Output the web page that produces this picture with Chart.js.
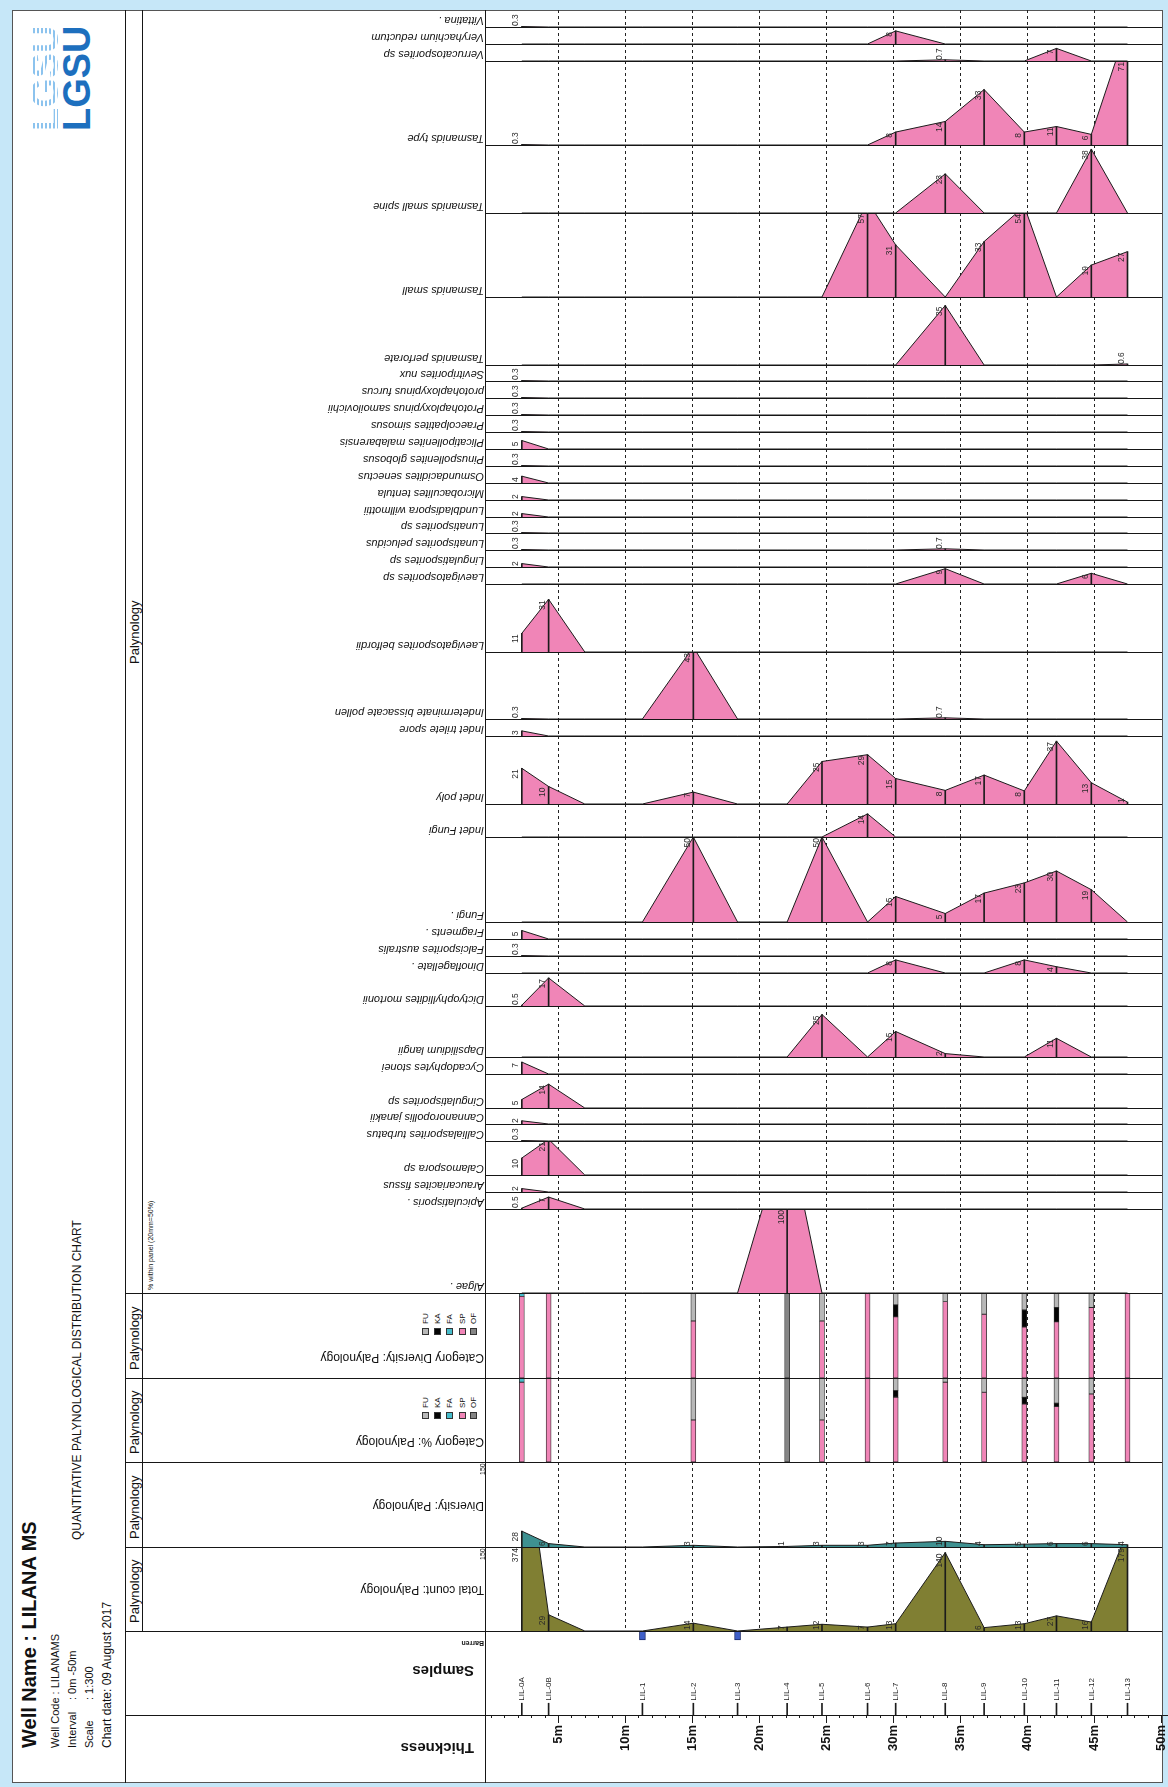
<!DOCTYPE html>
<html lang="en">
<head>
<meta charset="UTF-8">
<title>Well Name : LILANA MS</title>
<script src="https://cdn.jsdelivr.net/npm/chart.js"></script>
<style>
  body { margin: 0; background: #c6e7f8; }
  #sheet { position: relative; width: 1168px; height: 1787px; overflow: hidden;
           font-family: Arial, "Liberation Sans", sans-serif; color: #111; }
  #sheet > * { position: absolute; }
  .frame { background: #fff; border: 1px solid #555; box-sizing: border-box; }
  .ln { background: #161616; }
  .t { white-space: nowrap; line-height: 1; }
  .up { transform-origin: 0 0; transform: rotate(-90deg) translateY(-50%); }
  .flip { transform: rotate(180deg); text-align: left; }
  .sw { box-sizing: border-box; border: 1px solid #333; }
</style>
</head>
<body>
<div id="sheet"></div>
<script>
// ---------------- data ----------------
const sampleNames  = ['LIL-0A', 'LIL-0B', 'LIL-1', 'LIL-2', 'LIL-3', 'LIL-4', 'LIL-5', 'LIL-6',
                      'LIL-7', 'LIL-8', 'LIL-9', 'LIL-10', 'LIL-11', 'LIL-12', 'LIL-13'];
const sampleDepths = [2.3, 4.3, 11.3, 15.1, 18.4, 22.1, 24.7, 28.1, 30.2, 33.9, 36.8, 39.8, 42.2, 44.8, 47.5];
const barrenSamples = ['LIL-1', 'LIL-3'];
const zeroNode = 7.0;          // curves come back to zero here after LIL-0B
const gridDepths = [5, 10, 15, 20, 25, 30, 35, 40, 45];
const depthTicks = [5, 10, 15, 20, 25, 30, 35, 40, 45, 50];

const speciesNames = [
  'Vittatina .', 'Veryhachium reductum', 'Verrucatosporites sp', 'Tasmanids type',
  'Tasmanids small spine', 'Tasmanids small', 'Tasmanids perforate', 'Sevitriporites nux',
  'protohaploxypinus furcus', 'Protohaploxypinus samoilovichii', 'Praecolpatites simosus',
  'Plicatipollenites malabarensis', 'Pinuspollenites globosus', 'Osmundacidites senectus',
  'Microbaculites tentula', 'Lundbladispora willmottii', 'Lunatisporites sp',
  'Lunatisporites pelucidus', 'Lingulatisporites sp', 'Laevigatosporites sp',
  'Laevigatosporites belfordii', 'Indeterminate bissacate pollen', 'Indet trilete spore',
  'Indet poly', 'Indet Fungi', 'Fungi .', 'Fragments .', 'Falcisporites australis',
  'Dinoflagellate .', 'Dictyophyllidites mortonii', 'Dapsilidium langii', 'Cycadophytes stonei',
  'Cingulatisporites sp', 'Cannanoropollis janakii', 'Callialasporites turbatus',
  'Calamospora sp', 'Araucariacites fissus', 'Apiculatisporis .', 'Algae .'
];
// % per sample, columns follow sampleNames
const speciesValues = [
  [0.3, 0, 0, 0, 0, 0, 0, 0, 0, 0, 0, 0, 0, 0, 0],
  [0, 0, 0, 0, 0, 0, 0, 0, 7.7, 0, 0, 0, 0, 0, 0],
  [0, 0, 0, 0, 0, 0, 0, 0, 0, 0.7, 0, 0, 7.4, 0, 0],
  [0.3, 0, 0, 0, 0, 0, 0, 0, 7.7, 14, 33, 7.7, 11, 6.3, 71],
  [0, 0, 0, 0, 0, 0, 0, 0, 0, 23, 0, 0, 0, 37.5, 0],
  [0, 0, 0, 0, 0, 0, 0, 57, 31, 0, 33, 54, 0, 19, 27],
  [0, 0, 0, 0, 0, 0, 0, 0, 0, 35, 0, 0, 0, 0, 0.6],
  [0.3, 0, 0, 0, 0, 0, 0, 0, 0, 0, 0, 0, 0, 0, 0],
  [0.3, 0, 0, 0, 0, 0, 0, 0, 0, 0, 0, 0, 0, 0, 0],
  [0.3, 0, 0, 0, 0, 0, 0, 0, 0, 0, 0, 0, 0, 0, 0],
  [0.3, 0, 0, 0, 0, 0, 0, 0, 0, 0, 0, 0, 0, 0, 0],
  [5, 0, 0, 0, 0, 0, 0, 0, 0, 0, 0, 0, 0, 0, 0],
  [0.3, 0, 0, 0, 0, 0, 0, 0, 0, 0, 0, 0, 0, 0, 0],
  [4, 0, 0, 0, 0, 0, 0, 0, 0, 0, 0, 0, 0, 0, 0],
  [2, 0, 0, 0, 0, 0, 0, 0, 0, 0, 0, 0, 0, 0, 0],
  [2, 0, 0, 0, 0, 0, 0, 0, 0, 0, 0, 0, 0, 0, 0],
  [0.3, 0, 0, 0, 0, 0, 0, 0, 0, 0, 0, 0, 0, 0, 0],
  [0.3, 0, 0, 0, 0, 0, 0, 0, 0, 0.7, 0, 0, 0, 0, 0],
  [2, 0, 0, 0, 0, 0, 0, 0, 0, 0, 0, 0, 0, 0, 0],
  [0, 0, 0, 0, 0, 0, 0, 0, 0, 9, 0, 0, 0, 6.3, 0],
  [11, 31, 0, 0, 0, 0, 0, 0, 0, 0, 0, 0, 0, 0, 0],
  [0.3, 0, 0, 43, 0, 0, 0, 0, 0, 0.7, 0, 0, 0, 0, 0],
  [3, 0, 0, 0, 0, 0, 0, 0, 0, 0, 0, 0, 0, 0, 0],
  [21, 10.3, 0, 7, 0, 0, 25, 29, 15, 8, 17, 7.7, 37, 12.5, 1.1],
  [0, 0, 0, 0, 0, 0, 0, 14, 0, 0, 0, 0, 0, 0, 0],
  [0, 0, 0, 50, 0, 0, 50, 0, 15, 5, 17, 23, 30, 19, 0],
  [5, 0, 0, 0, 0, 0, 0, 0, 0, 0, 0, 0, 0, 0, 0],
  [0.3, 0, 0, 0, 0, 0, 0, 0, 0, 0, 0, 0, 0, 0, 0],
  [0, 0, 0, 0, 0, 0, 0, 0, 7.7, 0, 0, 7.7, 3.7, 0, 0],
  [0.5, 17, 0, 0, 0, 0, 0, 0, 0, 0, 0, 0, 0, 0, 0],
  [0, 0, 0, 0, 0, 0, 25, 0, 15, 2, 0, 0, 11, 0, 0],
  [7, 0, 0, 0, 0, 0, 0, 0, 0, 0, 0, 0, 0, 0, 0],
  [5, 14, 0, 0, 0, 0, 0, 0, 0, 0, 0, 0, 0, 0, 0],
  [2, 0, 0, 0, 0, 0, 0, 0, 0, 0, 0, 0, 0, 0, 0],
  [0.3, 0, 0, 0, 0, 0, 0, 0, 0, 0, 0, 0, 0, 0, 0],
  [10, 21, 0, 0, 0, 0, 0, 0, 0, 0, 0, 0, 0, 0, 0],
  [2, 0, 0, 0, 0, 0, 0, 0, 0, 0, 0, 0, 0, 0, 0],
  [0.5, 7, 0, 0, 0, 0, 0, 0, 0, 0, 0, 0, 0, 0, 0],
  [0, 0, 0, 0, 0, 100, 0, 0, 0, 0, 0, 0, 0, 0, 0]
];

const totalCount = [374, 29, 0, 14, 0, 7, 12, 7, 13, 140, 6, 13, 27, 16, 179];
const diversity  = [28, 6, 0, 3, 0, 1, 3, 3, 7, 10, 4, 5, 6, 6, 4];

const categoryCodes = ['FU', 'KA', 'FA', 'SP', 'OF'];
// Category Diversity (% of species in sample)
const divFU = [0, 0, 0, 33, 0, 0, 33, 0, 14, 10, 25, 20, 17, 17, 0];
const divKA = [0, 0, 0, 0, 0, 0, 0, 0, 14, 0, 0, 20, 17, 0, 0];
const divFA = [4, 0, 0, 0, 0, 0, 0, 0, 0, 0, 0, 0, 0, 0, 0];
const divSP = [96, 100, 0, 67, 0, 0, 67, 100, 72, 90, 75, 60, 66, 83, 100];
const divOF = [0, 0, 0, 0, 0, 100, 0, 0, 0, 0, 0, 0, 0, 0, 0];
// Category % (% of count in sample)
const pctFU = [0, 0, 0, 50, 0, 0, 50, 0, 15, 5, 17, 23, 30, 19, 0];
const pctKA = [0, 0, 0, 0, 0, 0, 0, 0, 8, 0, 0, 8, 4, 0, 0];
const pctFA = [5, 0, 0, 0, 0, 0, 0, 0, 0, 0, 0, 0, 0, 0, 0];
const pctSP = [95, 100, 0, 50, 0, 0, 50, 100, 77, 95, 83, 69, 66, 81, 100];
const pctOF = [0, 0, 0, 0, 0, 100, 0, 0, 0, 0, 0, 0, 0, 0, 0];

// ---------------- layout ----------------
const TOP = 10, BOTTOM = 1783, LEFT = 12, RIGHT = 1163;
const TITLE_R = 125, PANEL_R = 142, PLOT_L = 485, PLOT_R = 1162;
const X0 = 491, PX_PER_M = 13.4;          // pixel of 0 m, pixels per metre
const UNIT = 16.886;                       // one row unit = 10 %
const rowUnits = [1, 1, 1, 5, 4, 5, 4, 1, 1, 1, 1, 1, 1, 1, 1, 1, 1, 1, 1, 1,
                  4, 4, 1, 4, 2, 5, 1, 1, 1, 2, 3, 1, 2, 1, 1, 2, 1, 1, 5];
const xRange = right => ({ min: (PLOT_L - X0) / PX_PER_M, max: (right - X0) / PX_PER_M });
const U = n => Math.round(TOP + n * UNIT);

const PINK = '#f085b7', OLIVE = '#807f33', TEAL = '#3e9191';
const catColors = { FU: '#b8b8b8', KA: '#050505', FA: '#45bccb', SP: PINK, OF: '#858585' };
const INK = '#1c1c1c';

const sheet = document.getElementById('sheet');

function el(tag, cls, style, text) {
  const d = document.createElement(tag);
  if (cls) d.className = cls;
  Object.assign(d.style, style);
  if (text !== undefined) d.textContent = text;
  sheet.appendChild(d);
  return d;
}
const px = v => v + 'px';
function hLine(x1, x2, y) { el('div', 'ln', { left: px(x1), top: px(y), width: px(x2 - x1), height: '1px' }); }
function vLine(x, y1, y2) { el('div', 'ln', { left: px(x), top: px(y1), width: '1px', height: px(y2 - y1) }); }
// text reading bottom-to-top, starting at yStart, centred on x
function upText(str, x, yStart, font, color) {
  return el('div', 't up', { left: px(x), top: px(yStart), font, color: color || '#111' }, str);
}
// upside-down text, first letter at xRight, centred on yMid
function flipText(str, xRight, yMid, font, w) {
  w = w || 340;
  return el('div', 't flip', { left: px(xRight - w), top: px(yMid - 8), width: px(w), height: '16px',
                               lineHeight: '16px', font }, str);
}
function canvasAt(x, y, w, h) {
  const c = el('canvas', '', { left: px(x), top: px(y), width: px(w), height: px(h) });
  c.width = w; c.height = h;
  return c;
}

// ---------------- Chart.js setup ----------------
Chart.defaults.animation = false;
Chart.defaults.responsive = false;
Chart.defaults.events = [];
Chart.defaults.layout.autoPadding = false;
Chart.defaults.plugins.legend.display = false;
Chart.defaults.plugins.tooltip.enabled = false;
Chart.defaults.font.family = 'Arial, "Liberation Sans", sans-serif';

// small rotated value labels beside each sample stick
const valueLabels = {
  id: 'valueLabels',
  afterDatasetsDraw(chart, args, opts) {
    if (opts.dataset === undefined) return;
    const meta = chart.getDatasetMeta(opts.dataset);
    const data = chart.data.datasets[opts.dataset].data;
    const { ctx, chartArea } = chart;
    ctx.save();
    ctx.font = '8.5px Arial';
    ctx.fillStyle = '#2a2a2a';
    meta.data.forEach((bar, i) => {
      const v = data[i].y;
      const txt = v < 1 ? String(v) : String(Math.round(v));
      const w = ctx.measureText(txt).width;
      let top = Math.max(bar.y, chartArea.top) + 1;
      if (top + w > chartArea.bottom - 1) top = chartArea.bottom - 1 - w;
      ctx.save();
      ctx.translate(bar.x - 1.5, top);
      ctx.rotate(-Math.PI / 2);
      ctx.textAlign = 'right';
      ctx.textBaseline = 'bottom';
      ctx.fillText(txt, 0, 0);
      ctx.restore();
    });
    ctx.restore();
  }
};
// minor (1 m) ticks under the depth axis
const minorTicks = {
  id: 'minorTicks',
  afterDraw(chart, args, opts) {
    if (!opts.len) return;
    const { ctx, chartArea, scales: { x } } = chart;
    ctx.save();
    ctx.strokeStyle = INK;
    ctx.lineWidth = 1;
    for (let m = 0; m <= 50; m++) {
      const p = Math.round(x.getPixelForValue(m)) + 0.5;
      ctx.beginPath();
      ctx.moveTo(p, chartArea.bottom);
      ctx.lineTo(p, chartArea.bottom + opts.len);
      ctx.stroke();
    }
    ctx.restore();
  }
};
// sample names above the sample ticks
const sampleLabels = {
  id: 'sampleLabels',
  afterDatasetsDraw(chart, args, opts) {
    if (opts.at === undefined) return;
    const { ctx, scales: { x, y } } = chart;
    ctx.save();
    ctx.font = '8px Arial';
    ctx.fillStyle = '#222';
    sampleNames.forEach((n, i) => {
      ctx.save();
      ctx.translate(x.getPixelForValue(sampleDepths[i]), y.getPixelForValue(opts.at));
      ctx.rotate(-Math.PI / 2);
      ctx.textAlign = 'left';
      ctx.textBaseline = 'middle';
      ctx.fillText(n, 0, 0);
      ctx.restore();
    });
    ctx.restore();
  }
};
Chart.register(valueLabels, minorTicks, sampleLabels);

function depthScale() {
  return {
    type: 'linear', ...xRange(PLOT_R), offset: false,
    afterBuildTicks: s => { s.ticks = gridDepths.map(v => ({ value: v })); },
    ticks: { display: false },
    grid: { offset: false, drawTicks: false, color: '#222', lineWidth: 1 },
    border: { display: false, dash: [3, 3] }
  };
}
function curve(values) {
  const pts = sampleDepths.map((d, i) => ({ x: d, y: values[i] }));
  pts.splice(2, 0, { x: zeroNode, y: 0 });
  return pts;
}
const points = values => sampleDepths.map((d, i) => ({ x: d, y: values[i] })).filter(p => p.y > 0);

function areaTrack(y, h, values, yMax, color) {
  return new Chart(canvasAt(PLOT_L, y, PLOT_R - PLOT_L, h), {
    type: 'line',
    data: {
      datasets: [
        { data: curve(values), fill: 'origin', backgroundColor: color, borderColor: INK,
          borderWidth: 1, pointRadius: 0, tension: 0, order: 2 },
        { type: 'bar', data: points(values), backgroundColor: INK, barThickness: 1,
          grouped: false, order: 1 }
      ]
    },
    options: {
      layout: { padding: 0 },
      scales: { x: depthScale(), y: { min: 0, max: yMax, display: false } },
      plugins: { valueLabels: { dataset: 1 } }
    }
  });
}
function categoryTrack(y, h, series) {
  const order = ['OF', 'SP', 'FA', 'KA', 'FU'];            // bottom to top
  return new Chart(canvasAt(PLOT_L, y, PLOT_R - PLOT_L, h), {
    type: 'bar',
    data: {
      datasets: order.map(k => ({
        label: k, data: points(series[k]), backgroundColor: catColors[k], borderColor: '#2a2a2a',
        borderWidth: 0.8, borderSkipped: false, barThickness: 5, grouped: false
      }))
    },
    options: {
      layout: { padding: 0 },
      scales: { x: depthScale(), y: { stacked: true, min: 0, max: 100, display: false } }
    }
  });
}

// ---------------- frame & grid ----------------
el('div', 'frame', { left: px(LEFT), top: px(TOP), width: px(RIGHT - LEFT), height: px(BOTTOM - TOP) });

// species tracks
let cum = 0;
const rowEdges = [U(0)];
speciesNames.forEach((name, i) => {
  const y1 = U(cum), y2 = U(cum + rowUnits[i]);
  areaTrack(y1, y2 - y1, speciesValues[i], rowUnits[i] * 10, PINK);
  flipText(name, 484, y2 - 8.4, 'italic 11px Arial');
  cum += rowUnits[i];
  rowEdges.push(y2);
});

// lower panels
categoryTrack(U(76), U(81) - U(76), { FU: divFU, KA: divKA, FA: divFA, SP: divSP, OF: divOF });
categoryTrack(U(81), U(86) - U(81), { FU: pctFU, KA: pctKA, FA: pctFA, SP: pctSP, OF: pctOF });
areaTrack(U(86), U(91) - U(86), diversity, 150, TEAL);
areaTrack(U(91), U(96) - U(91), totalCount, 150, OLIVE);

// samples + thickness (depth axis); canvas runs to the page edge so "50m" is not cut
const AXIS_R = 1168;
new Chart(canvasAt(PLOT_L, U(96), AXIS_R - PLOT_L, BOTTOM - U(96)), {
  type: 'bar',
  data: {
    datasets: [
      { data: sampleDepths.map(d => ({ x: d, y: [0, 1.4] })), backgroundColor: INK,
        barThickness: 1, grouped: false },
      { data: sampleDepths.filter((d, i) => barrenSamples.includes(sampleNames[i]))
                          .map(d => ({ x: d, y: [8.95, 10] })),
        backgroundColor: '#3f5fc8', borderColor: '#1c2b6e', borderWidth: 1, borderSkipped: false,
        barThickness: 6, grouped: false }
    ]
  },
  options: {
    layout: { padding: 0 },
    scales: {
      x: {
        type: 'linear', ...xRange(AXIS_R), offset: false,
        afterBuildTicks: s => { s.ticks = depthTicks.map(v => ({ value: v })); },
        afterFit: s => { s.height = BOTTOM - U(101); s.paddingLeft = 0; s.paddingRight = 0; },
        grid: { offset: false, drawOnChartArea: false, drawTicks: true, tickLength: 8, tickColor: INK },
        border: { display: true, color: INK, width: 1 },
        ticks: { autoSkip: false, minRotation: 90, maxRotation: 90, padding: 2, color: '#111',
                 font: { size: 13, weight: 'bold' }, callback: v => v + 'm' }
      },
      y: { min: 0, max: 10, display: false }
    },
    plugins: { minorTicks: { len: 3 }, sampleLabels: { at: 1.7 } }
  }
});

// separators
rowEdges.slice(1, -1).forEach(y => hLine(PLOT_L, PLOT_R, y));
[U(76), U(81), U(86), U(91), U(96)].forEach(y => hLine(TITLE_R, PLOT_R, y));
hLine(TITLE_R, PLOT_R, U(101));
vLine(TITLE_R, TOP, BOTTOM);
vLine(PANEL_R, TOP, U(96));
vLine(PLOT_L, TOP, BOTTOM);

// ---------------- texts ----------------
upText('Palynology', 133.5, 664, '13px Arial');
[[76, 81], [81, 86], [86, 91], [91, 96]].forEach(([a, b]) =>
  upText('Palynology', 133.5, (U(a) + U(b)) / 2 + 34, '13px Arial'));

upText('% within panel (20mm=50%)', 150, 1290, '7px Arial');

// legends
[U(81), U(86)].forEach(bottom => {
  const cy = bottom - 47;
  categoryCodes.forEach((c, i) => {
    const cx = [425, 437, 449, 462, 473][i];
    el('div', 'sw', { left: px(cx - 3.5), top: px(cy - 3.5), width: '7px', height: '7px', background: catColors[c] });
    upText(c, cx, cy - 7, '8px Arial');
  });
});
flipText('Category Diversity: Palynology', 484, U(81) - 21, '12px Arial');
flipText('Category %: Palynology', 484, U(86) - 21, '12px Arial');
flipText('Diversity: Palynology', 484, U(86) + 43, '12px Arial');
flipText('Total count: Palynology', 484, U(91) + 42, '12px Arial');
upText('150', 481.5, U(86) + 13, '7px Arial');
upText('150', 481.5, U(91) + 13, '7px Arial');
flipText('Barren', 484, U(96) + 7.5, 'bold 7px Arial');
flipText('Samples', 474, U(96) + 41, 'bold 15px Arial');
flipText('Thickness', 474, U(101) + 34, 'bold 15px Arial');

// title block
upText('Well Name : LILANA MS', 28.5, 1748, 'bold 20px Arial');
upText('Well Code : LILANAMS', 55, 1748, '11px Arial');
upText('Interval', 72, 1748, '11px Arial');
upText(': 0m -50m', 72, 1700, '11px Arial');
upText('Scale', 88.5, 1748, '11px Arial');
upText(': 1:300', 88.5, 1700, '11px Arial');
upText('Chart date: 09 August 2017', 106.5, 1748, '12px Arial');
upText('QUANTITATIVE PALYNOLOGICAL DISTRIBUTION CHART', 77, 1540, '12px Arial');

// logo
const logoA = upText('LGSU', 45, 131, 'bold 38px Arial');
Object.assign(logoA.style, {
  background: 'repeating-linear-gradient(0deg, #8cc3ee 0 2px, #ffffff 2px 4px)',
  webkitBackgroundClip: 'text', backgroundClip: 'text', color: 'transparent'
});
upText('LGSU', 77, 131, 'bold 38px Arial', '#1d6fbe');
</script>
</body>
</html>
